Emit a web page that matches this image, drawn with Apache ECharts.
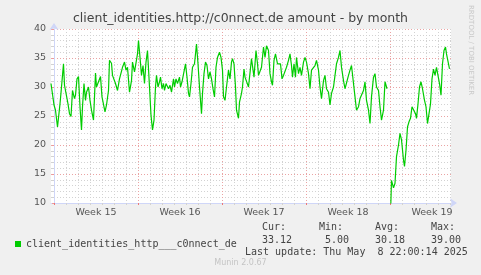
<!DOCTYPE html>
<html>
<head>
<meta charset="utf-8">
<script src="https://cdn.jsdelivr.net/npm/echarts@6/dist/echarts.min.js"></script>
<style>
html,body{margin:0;padding:0;background:#F0F0F0;}
#c{width:481px;height:275px;}
</style>
</head>
<body>
<div id="c"></div>
<script>
// hours relative to Sunday 2025-04-06 00:00 (start of "Week 15")
var hours = [-6,-3,0,3,7,9,12,14,17,19,21,25,28,31,34,37,41,43,46,49,52,55,57,60,63,65,69,72,75,79,81,83,85,89,93,96,99,102,105,109,111,115,117,120,123,127,131,134,137,141,144,147,151,155,157,161,165,167,169,172,175,178,181,184,187,189,191,194,197,200,203,205,208,211,213,216,219,221,224,227,229,232,235,239,241,244,247,251,253,256,260,263,266,269,271,274,277,281,283,285,288,291,295,297,300,303,306,309,312,315,318,321,324,327,331,334,337,339,342,345,349,352,355,357,360,363,365,369,371,375,377,380,382,385,389,392,395,397,400,404,407,409,412,415,419,422,425,429,432,435,437,440,443,447,450,453,456,459,463,465,469,472,475,477,480,483,485,489,492,495,499,502,505,509,512,515,519,522,525,529,532,535,539,542,545,549,552,555,559,562,565,569,572,575,579,582,585,589,592,595,599,602,605,609,612,615,619,622,625,629,632,635,639,642,645,649,652,655,659,662,664,666,669,672,675,679,682,685,689,692,695,699,701,704,707,710,713,716,720,723,725,728,731,734,737,741,744,747,751,753,756,759,762,765,769,771,774,777,780,783,785,789,791];
var values = [30.6,30.9,26.9,26,23.1,23,27.1,29,29.1,34,30.3,30.6,27.1,25.4,24.9,29.4,28,28.6,31.4,31.8,26.6,22.6,26.6,30.6,27.7,29.1,30,27.7,26,24.3,28.3,32.4,30,30.3,31.8,28.3,28.2,25.7,26.9,29.4,34.6,34.1,32,32.3,30.6,29.4,31.4,31.1,33.4,34.3,32.9,33.4,29.1,31.1,34.3,32.6,32.9,35.7,38,35.1,32,33.7,30.6,34.3,36.3,36.6,30,25.1,22.6,24.3,30,32,30,30.9,31.7,29.7,30.6,29.4,30.6,30.9,29.7,30.3,29.1,31.4,30,31.4,30.6,31.7,30,30.9,31.1,34,31.7,28.9,28.3,30.6,33.4,34,35.7,37.4,34,30,25.4,28.9,32.3,34.3,33.7,31.4,32.6,31.4,29.7,28.3,33.4,35.1,36,35.1,32.9,28.3,27.7,30,32.9,31.4,34.3,34.9,34,30,26,24.6,27.4,28.9,30,33.1,31.7,31.4,30,29.7,34.9,35.1,31.7,36.3,34,32,32.3,33.4,36.9,35.1,37.1,36.3,32.3,30.9,30.3,34.6,35.7,34,34.3,34,31.4,32,31.7,33.4,34.6,35.7,33.7,31.7,34,31.7,35.1,32.3,33.4,32,34.3,35.1,34.3,32.3,29.7,32.9,33.1,33.7,34.6,32.9,30,28,31.1,32,29.7,29.1,26.9,28.9,30,32,34,35.1,36.3,33.4,31.1,29.7,30,32,32.9,33.7,30.6,28.3,26,26.6,28,28.3,29.4,30.9,27.7,26,23.7,28.3,31.7,32.3,30,29.4,26.6,24.3,26,30.9,31.1,29.7,null,5,13.9,12.6,13.4,18,20,22,20.9,17.4,16.3,19.1,23.1,24,24.6,26.6,26.9,25.4,24.6,27.1,30,30.9,29.7,27.7,26.6,23.7,23.4,27.1,31.4,33.1,32,33.4,33.1,30.6,28.6,34,36.3,36.9,35.7,34,33.12];
var weekLabels = ['Week 15','Week 16','Week 17','Week 18','Week 19'];
var yTicks = [10,15,20,25,30,35,40];
var seriesName = 'client_identities_http___c0nnect_de';
var statHeads = ['Cur:','Min:','Avg:','Max:'];
var statVals = ['33.12','5.00','30.18','39.00'];
var title = 'client_identities.http://c0nnect.de amount - by month';
var lastUpdate = 'Last update: Thu May  8 22:00:14 2025';

var HOURS_PER_WEEK = 168, HOURS_PER_DAY = 24;
var dayTicks = [], weekTicks = [], weekMids = [];
for (var d = 0; d <= 33; d++) dayTicks.push(d * HOURS_PER_DAY);
for (var w = 0; w < weekLabels.length; w++) {
  weekTicks.push(w * HOURS_PER_WEEK);
  weekMids.push(w * HOURS_PER_WEEK + HOURS_PER_WEEK / 2);
}
var data = hours.map(function (h, i) { return [h, values[i]]; });

var RED = '#eaa3a3', GREY = '#d2d2d2', AXIS = '#CFD6F8';
var chart = echarts.init(document.getElementById('c'), null, {renderer: 'canvas'});
var statX = [262, 319, 375, 431];
var statValX = [262, 325, 375, 431];
var graphics = [];
statHeads.forEach(function (s, i) {
  graphics.push({type: 'text', left: statX[i], top: 222, style: {text: s, font: '10px "DejaVu Sans Mono"', fill: '#444'}});
  graphics.push({type: 'text', left: statValX[i], top: 235, style: {text: statVals[i], font: '10px "DejaVu Sans Mono"', fill: '#444'}});
});
graphics.push({type: 'text', left: 245, top: 247, style: {text: lastUpdate, font: '10px "DejaVu Sans Mono"', fill: '#444'}});
graphics.push({type: 'text', left: 'center', top: 259, style: {text: 'Munin 2.0.67', font: '8px "DejaVu Sans"', fill: '#c4c4c4'}});
graphics.push({type: 'text', x: 474, y: 5, rotation: -Math.PI / 2, style: {text: 'RRDTOOL / TOBI OETIKER', font: '7px "DejaVu Sans"', fill: '#c8c8c8', textVerticalAlign: 'top'}});
graphics.push({type: 'text', left: 'center', top: 12, style: {text: title, font: '12.5px "DejaVu Sans"', fill: '#444'}});

chart.setOption({
  backgroundColor: '#F0F0F0',
  animation: false,
  graphic: graphics,
  legend: {
    data: [seriesName], left: 10, top: 234, icon: 'rect', itemWidth: 6, itemHeight: 6, itemGap: 4,
    textStyle: {fontFamily: 'DejaVu Sans Mono', fontSize: 10, color: '#444'}
  },
  grid: {left: 51, top: 29, width: 400, height: 174, backgroundColor: '#FFFFFF', show: true, borderWidth: 0},
  xAxis: [{
    type: 'value', min: -6, max: 794, position: 'bottom',
    axisLine: {show: true, lineStyle: {color: AXIS, width: 1}, symbol: ['none', 'arrow'], symbolSize: [7, 7], symbolOffset: [0, 6]},
    axisTick: {show: true, customValues: dayTicks, length: 2, inside: false, lineStyle: {color: GREY}},
    axisLabel: {show: false},
    splitLine: {show: true, lineStyle: {color: GREY, type: [1, 2], width: 1}}
  }, {
    type: 'value', min: -6, max: 794, position: 'bottom',
    axisLine: {show: false},
    axisTick: {show: true, customValues: weekTicks, length: 2, lineStyle: {color: '#e77'}},
    axisLabel: {show: true, customValues: weekMids, margin: 5, color: '#555', fontFamily: 'DejaVu Sans', fontSize: 9.5,
      formatter: function (v) { return weekLabels[Math.round((v - HOURS_PER_WEEK / 2) / HOURS_PER_WEEK)]; }},
    splitLine: {show: true, lineStyle: {color: RED, type: [1, 2], width: 1}}
  }],
  yAxis: {
    type: 'value', min: yTicks[0], max: yTicks[yTicks.length - 1], interval: 5,
    axisLine: {show: true, lineStyle: {color: AXIS, width: 1}, symbol: ['none', 'arrow'], symbolSize: [7, 7], symbolOffset: [0, 6]},
    axisTick: {show: true, length: 2, lineStyle: {color: '#e99'}},
    minorTick: {show: true, splitNumber: 5, length: 2, lineStyle: {color: GREY}},
    axisLabel: {color: '#555', fontFamily: 'DejaVu Sans', fontSize: 9.5, margin: 5},
    splitLine: {show: true, lineStyle: {color: RED, type: [1, 2], width: 1}},
    minorSplitLine: {show: true, lineStyle: {color: GREY, type: [1, 2], width: 1}}
  },
  series: [{
    name: seriesName, type: 'line', xAxisIndex: 1, data: data, showSymbol: false, connectNulls: false,
    clip: true, color: '#00CC00', lineStyle: {width: 1.2, color: '#00CC00'}, z: 5
  }]
});
</script>
</body>
</html>
